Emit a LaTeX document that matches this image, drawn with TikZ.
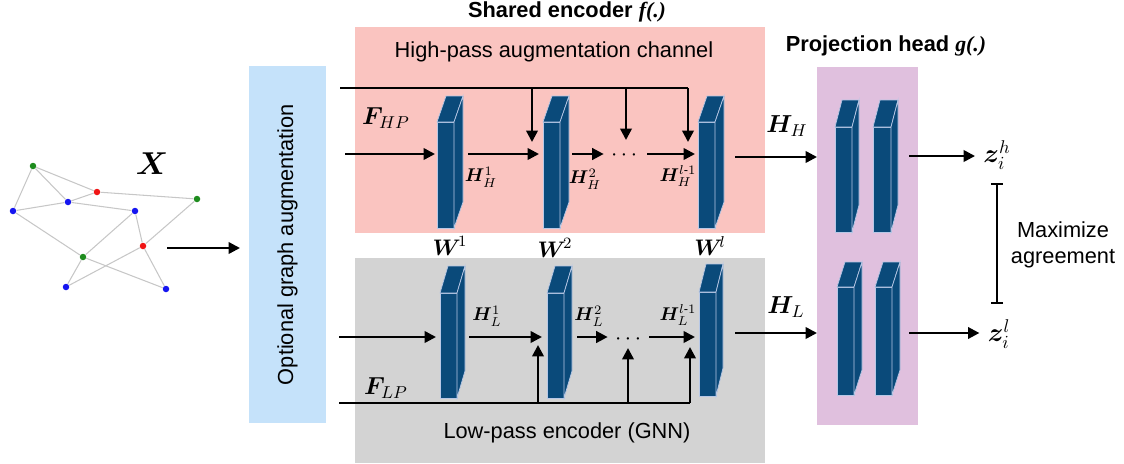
\RequirePackage{fix-cm}
\documentclass[tikz,border=0pt]{standalone}
\usepackage{amsmath,bm}
\usepackage{fontspec}
\setmainfont{Liberation Sans}
\newfontfamily\tms{Liberation Serif}
\usetikzlibrary{arrows.meta,calc}
\definecolor{pinkc}{HTML}{FAC4C0}
\definecolor{grayc}{HTML}{D3D3D3}
\definecolor{bluec}{HTML}{C5E2FA}
\definecolor{purpc}{HTML}{E0C0DE}
\definecolor{cubec}{HTML}{0A4A7A}
\definecolor{edgec}{HTML}{B8C8E6}
\definecolor{gg}{HTML}{1E8C1E}
\definecolor{gr}{HTML}{F01515}
\definecolor{gb}{HTML}{1515F0}
\newcommand\cubeblk[7]{%
  \node[cubef, minimum width=#4*0.02cm, minimum height=#5*0.02cm, anchor=north west] (#1) at (#2,#3) {};
  \filldraw[cubes] (#1.north west) -- ++(#6,-#7) -- ++(#4,0) -- (#1.north east) -- cycle;
  \filldraw[cubes] (#1.north east) -- ++(#6,-#7) -- ++(0,#5) -- (#1.south east) -- cycle;
}
\begin{document}
\begin{tikzpicture}[x=0.02cm,y=-0.02cm,
  cubef/.style={fill=cubec, draw=edgec, line width=0.4pt, inner sep=0pt, outer sep=0pt},
  cubes/.style={fill=cubec, draw=edgec, line width=0.4pt},
  panel/.style={inner sep=0pt, outer sep=0pt, draw=none},
  sans/.style={font=\fontsize{12.4}{14.7}\selectfont, inner sep=0pt},
  ttl/.style={font=\fontsize{12.4}{14.7}\selectfont\bfseries, inner sep=0pt},
  mlab/.style={font=\fontsize{14}{16}\selectfont, inner sep=0pt},
  wlab/.style={font=\fontsize{12.8}{14}\selectfont, inner sep=0pt},
  slab/.style={font=\fontsize{10.5}{12}\selectfont, inner sep=0pt},
  zlab/.style={font=\fontsize{15}{17}\selectfont, inner sep=0pt},
  ln/.style={line width=1.4pt},
  arr/.style={line width=1.4pt, -{Triangle[length=6.5pt,width=6.5pt]}},
  barl/.style={line width=1.4pt, {Bar[width=7pt]}-{Bar[width=7pt]}},
  gdot/.style={circle, inner sep=0pt, minimum size=0.13cm},
  gedge/.style={draw=black!22, line width=0.6pt}]
\useasboundingbox (0,0) rectangle (1124,463);

% panels
\node[panel, fill=bluec, minimum width=357*0.02cm, minimum height=77*0.02cm, rotate=90, sans] (aug) at (287.5,244.5) {Optional graph augmentation};
\node[panel, fill=pinkc, minimum width=410*0.02cm, minimum height=206*0.02cm] (hpbox) at (560,130) {};
\node[panel, fill=grayc, minimum width=410*0.02cm, minimum height=205*0.02cm] (lpbox) at (560,360.5) {};
\node[panel, fill=purpc, minimum width=101*0.02cm, minimum height=358*0.02cm] (proj) at (867.5,246) {};

% titles
\node[ttl] (t1) at (567,12) {Shared encoder {\tms\itshape f(.)}};
\node[ttl] (t2) at (886,46) {Projection head {\tms\itshape g(.)}};
\node[sans] (hptxt) at (554,52) {High-pass augmentation channel};
\node[sans] (lptxt) at (567,433) {Low-pass encoder (GNN)};

% graph
\node[gdot, fill=gg] (n1) at (33,166) {};
\node[gdot, fill=gr] (n2) at (97,192) {};
\node[gdot, fill=gb] (n3) at (68,202) {};
\node[gdot, fill=gb] (n4) at (13,211) {};
\node[gdot, fill=gg] (n5) at (197,199) {};
\node[gdot, fill=gb] (n6) at (135,211) {};
\node[gdot, fill=gr] (n7) at (143,246) {};
\node[gdot, fill=gg] (n8) at (83,257) {};
\node[gdot, fill=gb] (n9) at (66,287) {};
\node[gdot, fill=gb] (n10) at (166,289) {};
\foreach \a/\b in {n1/n4,n1/n3,n1/n2,n4/n3,n3/n2,n2/n5,n3/n6,n6/n8,n6/n7,n5/n7,n4/n8,n8/n9,n8/n10,n7/n9,n7/n10}
  \draw[gedge] (\a) -- (\b);
\node[font=\fontsize{18}{20}\selectfont, inner sep=0pt] (xl) at (152,164) {$\bm{X}$};
\coordinate (gout) at (167,248);
\draw[arr] (gout) -- ($(gout -| aug.north)+(-9,0)$);

% high-pass encoder cubes
\cubeblk{hw1}{437}{122}{17}{106}{9}{26}
\cubeblk{hw2}{543}{122}{17}{106}{9}{26}
\cubeblk{hwl}{698}{122}{17}{106}{9}{26}
% low-pass encoder cubes
\cubeblk{lw1}{440}{293}{17}{105}{8}{27}
\cubeblk{lw2}{547}{293}{17}{105}{8}{27}
\cubeblk{lwl}{699}{292}{17}{104}{7}{28}
% projection cubes
\cubeblk{pa}{835}{127}{17}{105}{7}{27}
\cubeblk{pb}{873}{127}{18}{105}{7}{27}
\cubeblk{pc}{837}{287}{17}{108}{8}{25}
\cubeblk{pd}{875}{287}{17}{108}{8}{25}

% row coordinates
\coordinate (hrow) at (0,154);
\coordinate (lrow) at (0,337);
\node[wlab] (dotsH) at (626,156) {$\cdots$};
\node[wlab] (dotsL) at (630,339) {$\cdots$};

% high-pass flow
\coordinate (hin) at (345,154);
\draw[arr] (hin) -- ($(hw1.west |- hin)+(-2,0)$);
\draw[arr] ($(hw1.east |- hrow)+(14,0)$) -- ($(hw2.west |- hrow)+(-4,0)$);
\draw[arr] ($(hw2.east |- hrow)+(12,0)$) -- ($(dotsH.west |- hrow)+(-7,0)$);
\draw[arr] ($(dotsH.east |- hrow)+(6,0)$) -- ($(hwl.west |- hrow)+(-3,0)$);
\coordinate (ftop) at (340,88);
\coordinate (d2) at ($(hw2.north west)+(-11,0)$);
\coordinate (dd) at ($(dotsH.center)+(0,0)$);
\coordinate (dl) at ($(hwl.north west)+(-10,0)$);
\draw[ln] (ftop) -- (ftop -| dl);
\draw[arr] (ftop -| d2) -- ($(d2)+(0,20)$);
\draw[arr] (ftop -| dd) -- ($(dd)+(0,-16)$);
\draw[arr] (ftop -| dl) -- ($(dl)+(0,20)$);

% low-pass flow
\coordinate (lin) at (339,337);
\draw[arr] (lin) -- ($(lw1.west |- lin)+(-4,0)$);
\draw[arr] ($(lw1.east |- lrow)+(12,0)$) -- ($(lw2.west |- lrow)+(-5,0)$);
\draw[arr] ($(lw2.east |- lrow)+(13,0)$) -- ($(dotsL.west |- lrow)+(-7,0)$);
\draw[arr] ($(dotsL.east |- lrow)+(4,0)$) -- ($(lwl.west |- lrow)+(-4,0)$);
\coordinate (fbot) at (339,403);
\coordinate (u2) at ($(lw2.south west)+(-9,0)$);
\coordinate (ud) at ($(dotsL.center)+(-2,0)$);
\coordinate (ul) at ($(lwl.south west)+(-9,0)$);
\draw[ln] (fbot) -- (fbot -| ul);
\draw[arr] (fbot -| u2) -- ($(u2)+(0,-53)$);
\draw[arr] (fbot -| ud) -- ($(ud)+(0,9)$);
\draw[arr] (fbot -| ul) -- ($(ul)+(0,-49)$);

% labels in encoders
\node[mlab] (fhp) at (386,118) {$\bm{F}_{HP}$};
\node[mlab] (flp) at (386,388) {$\bm{F}_{LP}$};
\node[slab] (h1) at (481,177) {$\bm{H}_H^1$};
\node[slab] (h2) at (585,179) {$\bm{H}_H^2$};
\node[slab] (hl) at (678,176) {$\bm{H}_H^{l\text{-}1}$};
\node[slab] (l1) at (487,316) {$\bm{H}_L^1$};
\node[slab] (l2) at (589,316) {$\bm{H}_L^2$};
\node[slab] (ll) at (678,315) {$\bm{H}_L^{l\text{-}1}$};
\node[wlab] (w1) at (450,246) {$\bm{W}^{\!1}$};
\node[wlab] (w2) at (555,248) {$\bm{W}^{\!2}$};
\node[wlab] (wl) at (710,246) {$\bm{W}^{\!l}$};

% outputs to projection head
\draw[arr] ($(hwl.east |- hrow)+(20,3)$) -- ($(proj.west |- hrow)+(0,3)$);
\draw[arr] ($(lwl.east |- lrow)+(19,-4)$) -- ($(proj.west |- lrow)+(0,-4)$);
\node[mlab] (HH) at (787,126) {$\bm{H}_H$};
\node[mlab] (HL) at (786,307) {$\bm{H}_L$};

% projection outputs
\node[zlab] (zh) at (997,155) {$\bm{z}_i^h$};
\node[zlab] (zl) at (999,334) {$\bm{z}_i^l$};
\draw[arr] ($(pb.east |- zh)+(18,1)$) -- ($(zh.west)+(-8,1)$);
\draw[arr] ($(pd.east |- zl)+(17,-1)$) -- ($(zl.west)+(-8,-1)$);
\draw[barl] ($(zh.center)+(0,28)$) -- ($(zl.center)+(-2,-30)$);
\node[sans, align=center] (maxt) at (1063,245) {Maximize\\agreement};
\end{tikzpicture}
\end{document}
